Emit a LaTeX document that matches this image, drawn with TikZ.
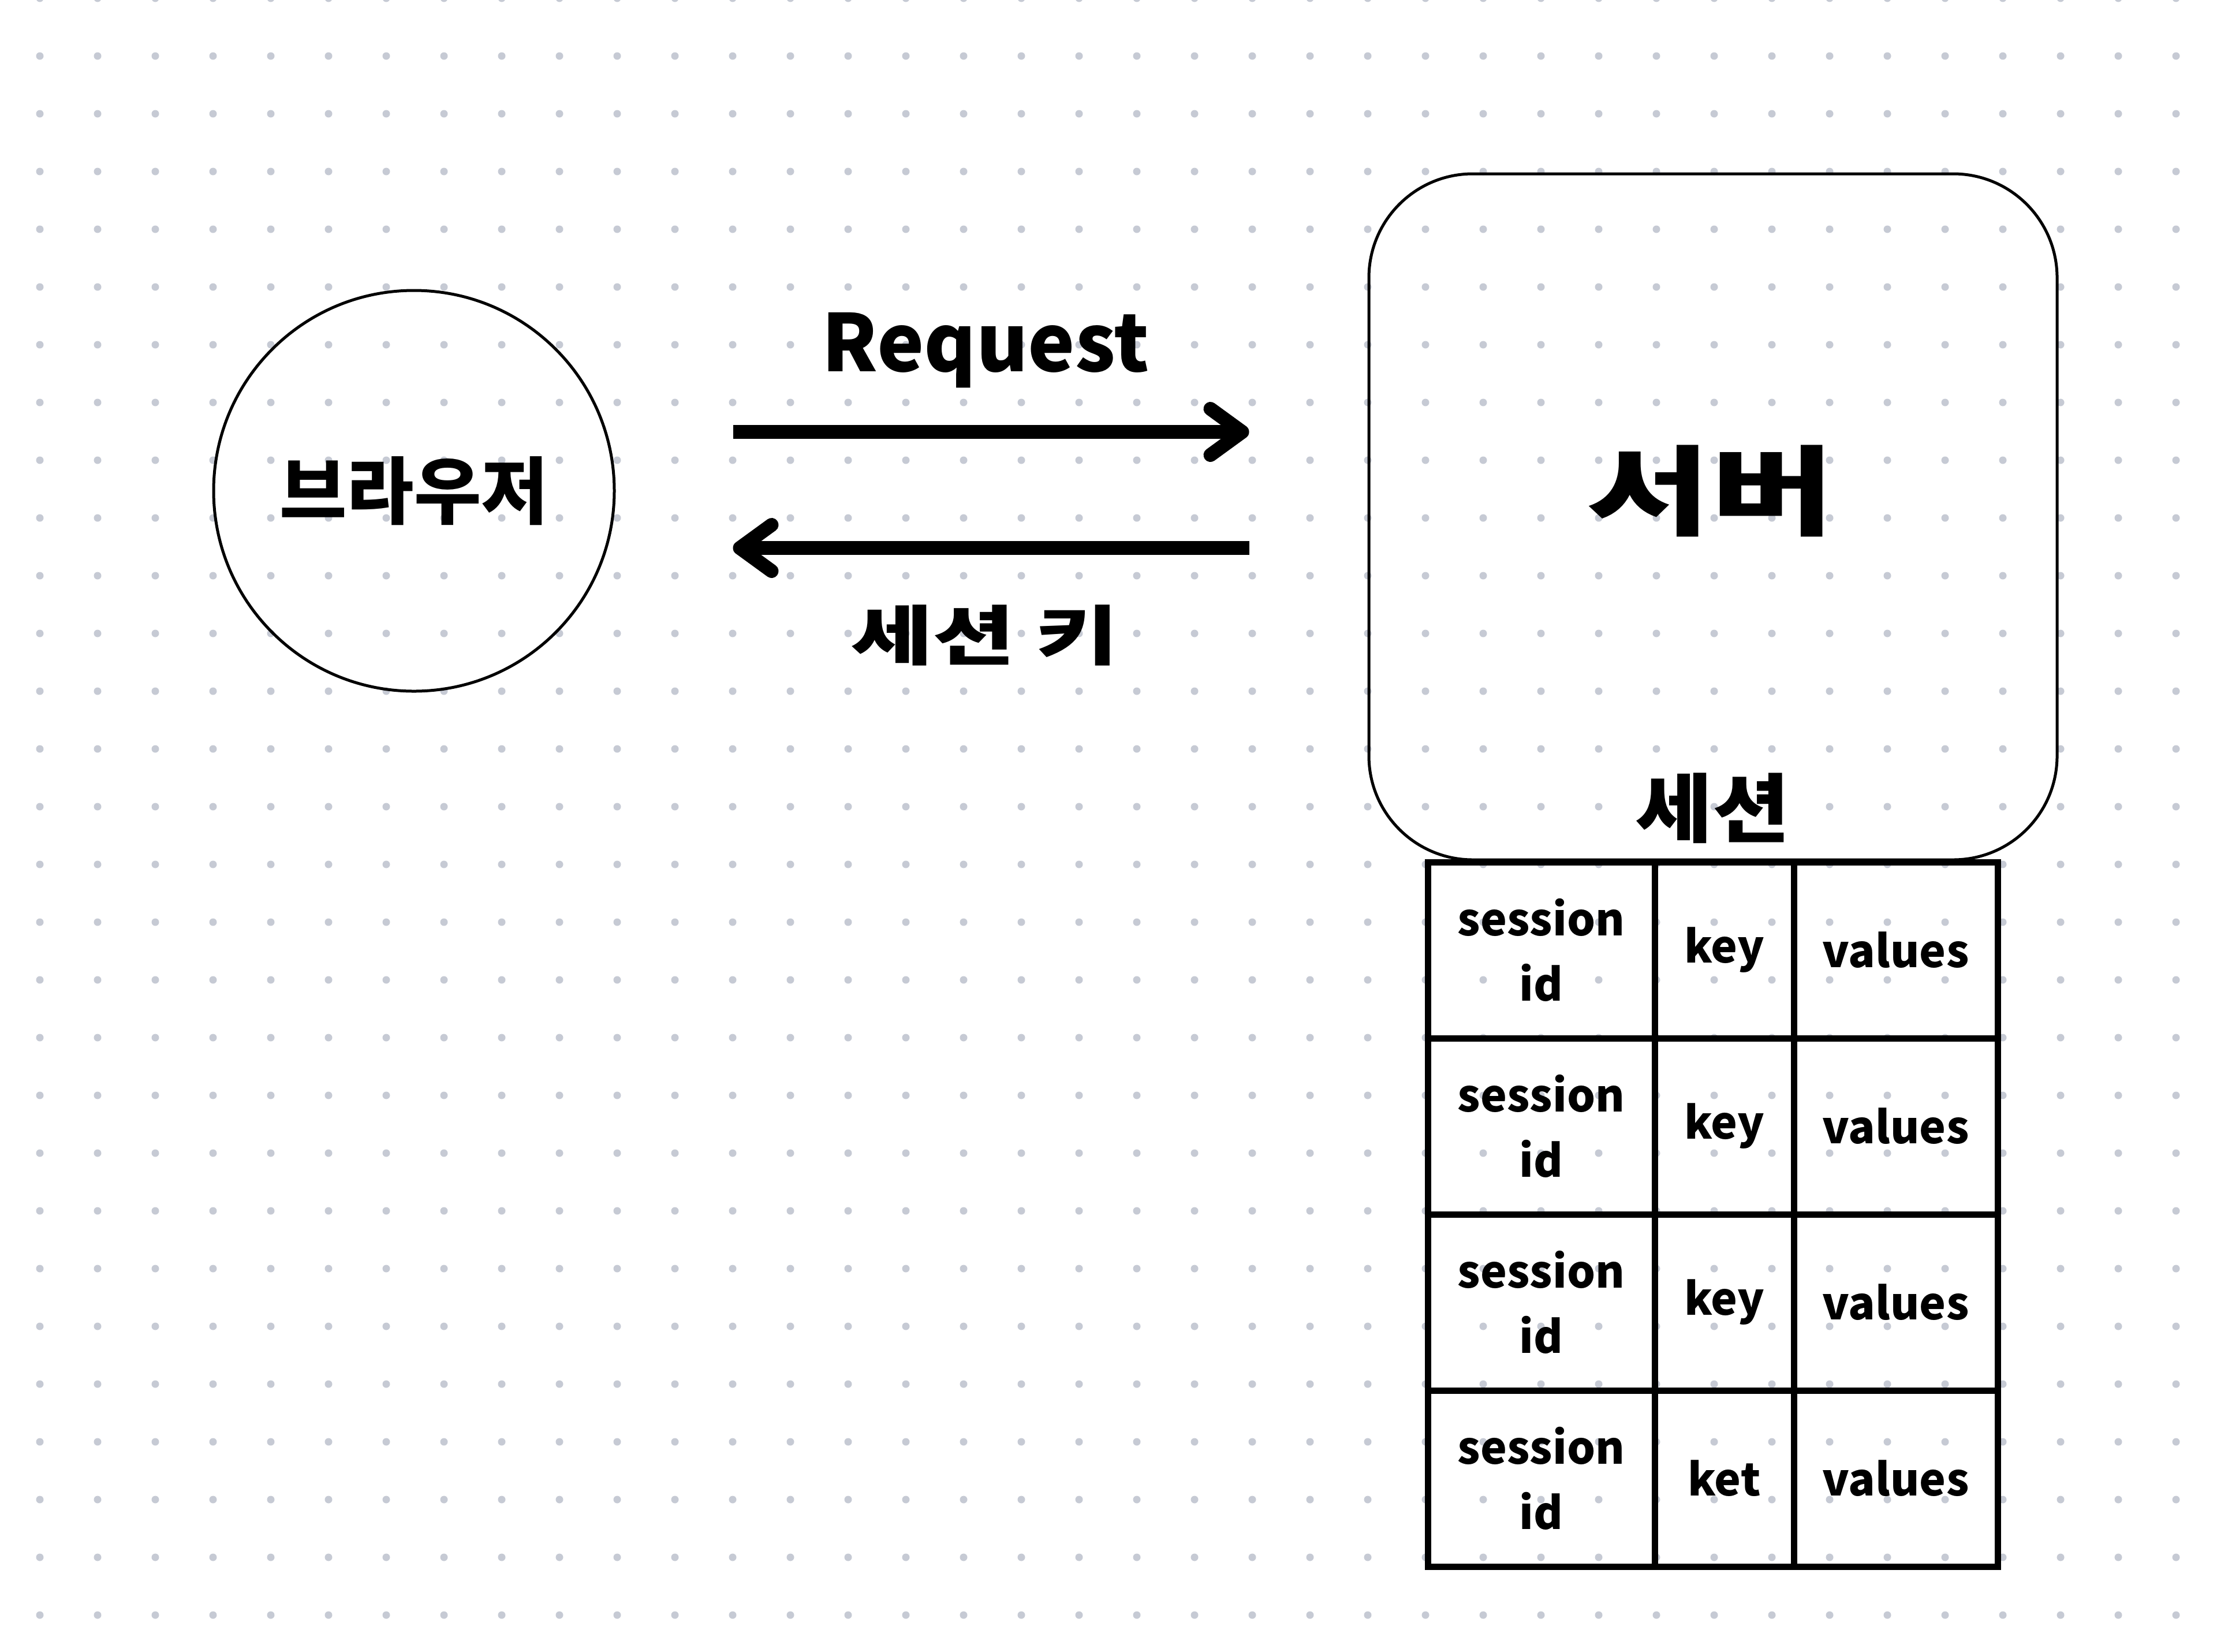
\documentclass[tikz,border=0pt]{standalone}
\usepackage{fontspec}
\setmainfont{Noto Sans CJK KR}
\newfontfamily\krwide{Noto Sans CJK KR}[FakeStretch=1.38]
\newfontfamily\krmid{Noto Sans CJK KR}[FakeStretch=1.12]
\usetikzlibrary{arrows.meta}
\definecolor{dotgray}{RGB}{198,202,212}
\tikzset{
  dotmark/.style={fill=dotgray},
  thinshape/.style={draw=black, line width=0.05cm},
  flow/.style={line width=0.24cm, -{Straight Barb[length=0.55cm,width=0.8cm,line cap=round,line join=round]}},
  cell/.style={draw=black, line width=0.11cm, inner sep=0pt, align=center, font=\bfseries\fontsize{22}{32}\selectfont},
  txt/.style={inner sep=0pt, font=\bfseries}
}
\begin{document}
\begin{tikzpicture}
\useasboundingbox (0,0) rectangle (38.4,-28.6);
\clip (0,0) rectangle (38.4,-28.6);
\fill[white] (0,0) rectangle (38.4,-28.6);
% dot grid
\foreach \i in {0,...,37}{
  \foreach \j in {-1,...,27}{
    \fill[dotmark] (0.69+\i,-0.97-\j) circle (0.065);
  }
}
% browser
\node[thinshape, circle, minimum size=6.94cm, inner sep=0pt, font=\bfseries\fontsize{36}{40}\selectfont] (browser) at (7.17,-8.5) {브라우저};
% server
\node[thinshape, rectangle, rounded corners=1.8cm, minimum width=11.92cm, minimum height=11.88cm] (server) at (29.67,-8.95) {};
\node[txt, font=\krwide\bfseries\fontsize{48}{52}\selectfont] (servertxt) at (29.63,-8.5) {서버};
\node[txt, font=\krmid\bfseries\fontsize{37}{40}\selectfont] (sessiontxt) at (29.66,-14.0) {세션};
% arrows
\coordinate (ytop) at (0,-7.48);
\coordinate (ybot) at (0,-9.49);
\draw[flow, shorten <=2.03cm, shorten >=2.05cm] (browser.east |- ytop) -- (server.west |- ytop);
\draw[flow, shorten <=2.05cm, shorten >=2.03cm] (server.west |- ybot) -- (browser.east |- ybot);
\node[txt, anchor=base, font=\bfseries\fontsize{39}{42}\selectfont] (req) at (17.07,-6.43) {Request};
\node[txt, font=\krwide\bfseries\fontsize{32}{36}\selectfont] (skey) at (17.05,-11.0) {세션 키};
% table
\foreach \r/\k in {0/key,1/key,2/key,3/ket}{
  \node[cell, minimum width=3.93cm, minimum height=3.05cm] (sid\r) at (26.695,-16.455-3.05*\r) {session\\id};
  \node[cell, minimum width=2.41cm, minimum height=3.05cm] (key\r) at (29.865,-16.455-3.05*\r) {\k};
  \node[cell, minimum width=3.53cm, minimum height=3.05cm] (val\r) at (32.835,-16.455-3.05*\r) {values};
}
\end{tikzpicture}
\end{document}
